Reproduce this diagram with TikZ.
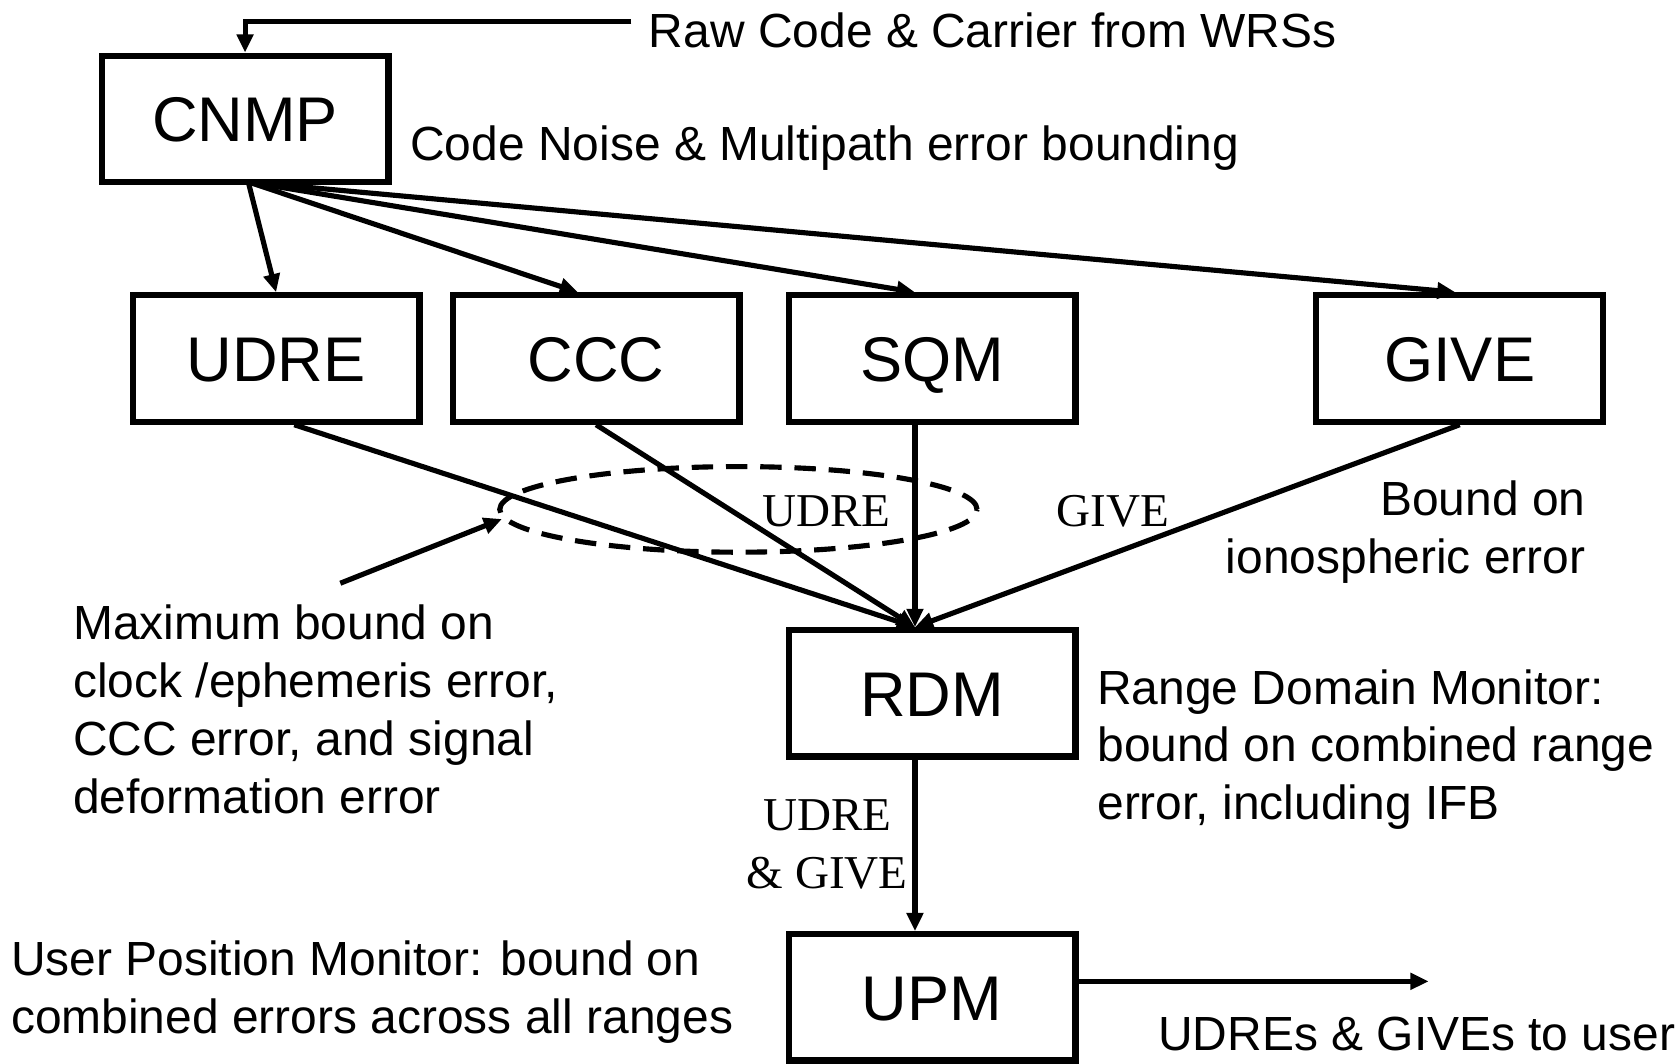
\documentclass[tikz,border=0pt]{standalone}
\usepackage{fontspec}
\setmainfont{Liberation Sans}
\newfontfamily\seriffam{Liberation Serif}
\usetikzlibrary{arrows.meta}
\begin{document}
\begin{tikzpicture}[x=0.5pt,y=-0.5pt,
  blk/.style={draw,line width=2.9pt,rectangle,minimum width=134pt,minimum height=59pt,inner sep=0pt,text height=21.2pt,text depth=0pt,font=\fontsize{29.5}{35}\selectfont},
  arr/.style={line width=2.4pt,-{Triangle[length=8.5pt,width=7.5pt]}},
  txt/.style={font=\fontsize{22.4}{27}\selectfont,inner sep=0pt,align=left},
  lbl/.style={font=\seriffam\fontsize{22}{27}\selectfont,inner sep=0pt,align=center}]
\useasboundingbox (0,0) rectangle (1568,994);
% boxes
\node[blk] (cnmp) at (229,111) {CNMP};
\node[blk] (udre) at (258,335) {UDRE};
\node[blk] (ccc) at (557,335) {CCC};
\node[blk] (sqm) at (871,335) {SQM};
\node[blk] (give) at (1364,335) {GIVE};
\node[blk] (rdm) at (871,648) {RDM};
\node[blk] (upm) at (871,932) {UPM};
% input arrow
\coordinate (rawstart) at (590,20);
\draw[arr] (rawstart) -| (cnmp.north);
% fan out of CNMP
\coordinate (fan) at (232,170);
\draw[arr] (fan) -- (udre.north);
\draw[arr] (fan) -- ([xshift=-8.5pt]ccc.north);
\draw[arr] (fan) -- ([xshift=-8pt]sqm.north);
\draw[arr] (fan) -- ([xshift=-2pt]give.north);
% into RDM
\coordinate (rin) at (855,586);
\draw[arr] ([xshift=8.5pt]udre.south) -- (rin);
\draw[arr] (ccc.south) -- (rin);
\draw[arr] ([xshift=-8pt]sqm.south) -- (rin);
\draw[arr] (give.south) -- (rin);
% RDM to UPM
\draw[arr] ([xshift=-8pt]rdm.south) -- ([xshift=-8pt]upm.north);
% UPM out
\coordinate (out) at (1335,917);
\draw[arr] (upm.east |- out) -- (out);
% dashed ellipse and pointer
\draw[line width=2.4pt,dash pattern=on 10pt off 6pt] (690,476) ellipse [x radius=111.5pt, y radius=20pt];
\coordinate (p1) at (318,545);
\coordinate (p2) at (469,485);
\draw[arr] (p1) -- (p2);
% labels on connectors
\node[lbl] (l1) at (772,478) {UDRE};
\node[lbl] (l2) at (1040,478) {GIVE};
\node[lbl] (l3) at (773,789) {UDRE\\\& GIVE};
% descriptive texts (base = last line's baseline)
\node[txt,anchor=base west] (t1) at (606,44) {Raw Code \& Carrier from WRSs};
\node[txt,anchor=base west] (t2) at (383,150) {Code Noise \& Multipath error bounding};
\node[txt,anchor=base east,align=right] (t3) at (1482,536) {Bound on\\ionospheric error};
\node[txt,anchor=base west] (t4) at (68,760) {Maximum bound on\\clock /ephemeris error,\\CCC error, and signal\\deformation error};
\node[txt,anchor=base west] (t5) at (1025,766) {Range Domain Monitor:\\bound on combined range\\error, including IFB};
\node[txt,anchor=base west] (t6) at (10,966) {User Position Monitor: bound on\\combined errors across all ranges};
\node[txt,anchor=base west] (t7) at (1082,982) {UDREs \& GIVEs to user};
\end{tikzpicture}
\end{document}
